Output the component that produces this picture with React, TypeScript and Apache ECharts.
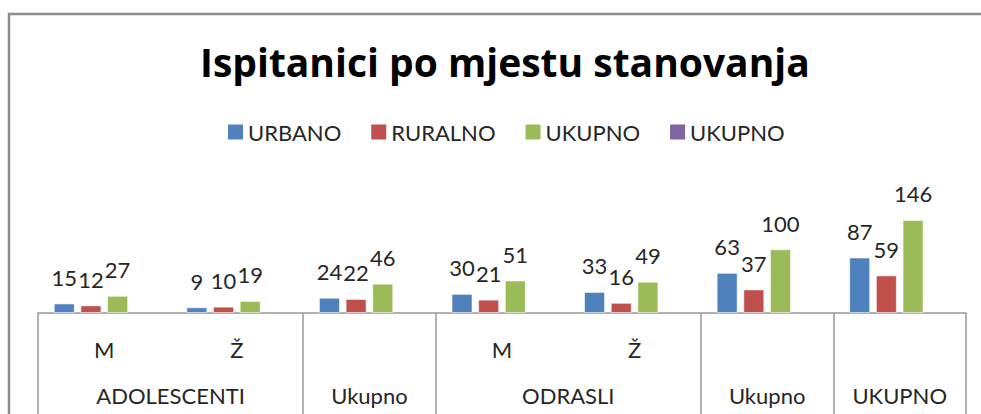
import React, { useEffect, useRef } from "react";
import * as echarts from "echarts";

const categories = ["M", "Ž", "", "M", "Ž", "", ""];
const groupLabels = ["ADOLESCENTI", "Ukupno", "ODRASLI", "Ukupno", "UKUPNO"];
const groupSpans = [2, 1, 2, 1, 1];
const seriesNames = ["URBANO", "RURALNO", "UKUPNO", "UKUPNO "];
const urbano = [15, 9, 24, 30, 33, 63, 87];
const ruralno = [12, 10, 22, 21, 16, 37, 59];
const ukupno = [27, 19, 46, 51, 49, 100, 146];
const ukupno2: (number | null)[] = [null, null, null, null, null, null, null];
const colors = ["#4F81BD", "#C0504D", "#9BBB59", "#8064A2"];

const FONT = "Lato";

export default function App() {
  const ref = useRef<HTMLDivElement>(null);
  useEffect(() => {
    document.body.style.margin = "0";
    if (!ref.current) return;
    const chart = echarts.init(ref.current, undefined, { renderer: "svg" });

    const bounds: number[] = [0];
    const centers: number[] = [];
    let acc = 0;
    groupSpans.forEach((s) => {
      centers.push(acc + s / 2);
      acc += s;
      bounds.push(acc);
    });
    const labelMap = new Map<number, string>();
    centers.forEach((c, i) => labelMap.set(c, groupLabels[i]));

    const values = [urbano, ruralno, ukupno, ukupno2];
    const series = values.map((d, i) => ({
      type: "bar",
      name: seriesNames[i],
      data: d,
      barWidth: 21,
      barGap: "27%",
      itemStyle: { color: colors[i], borderColor: "rgba(255,255,255,0.55)", borderWidth: 1 },
      label: {
        show: true,
        position: "top",
        distance: 15,
        fontFamily: FONT,
        fontSize: 22,
        color: "#262626",
      },
    }));

    chart.setOption({
      animation: false,
      title: {
        text: "Ispitanici po mjestu stanovanja",
        left: 195,
        top: 37,
        textStyle: { fontFamily: "Open Sans", fontWeight: "bold", fontSize: 39, color: "#000" },
      },
      legend: {
        left: 223,
        top: 116,
        itemWidth: 15,
        itemHeight: 15,
        itemGap: 30,
        icon: "rect",
        formatter: (n: string) => n.trim(),
        textStyle: { fontFamily: FONT, fontSize: 22, color: "#262626" },
        data: seriesNames.map((n, i) => ({ name: n, itemStyle: { color: colors[i], borderWidth: 0 } })),
      },
      grid: { left: 38, right: 15, top: 211, bottom: 101, containLabel: false },
      xAxis: [
        {
          type: "category",
          data: categories,
          position: "bottom",
          axisLine: { show: true, lineStyle: { color: "#989898", width: 1.5 } },
          axisTick: { show: false },
          axisLabel: { margin: 25, fontFamily: FONT, fontSize: 22, color: "#262626", interval: 0 },
        },
        {
          type: "value",
          min: 0,
          max: acc,
          position: "bottom",
          splitLine: { show: false },
          axisLine: { show: false },
          axisTick: {
            show: true,
            customValues: bounds,
            length: 120,
            lineStyle: { color: "#989898", width: 1.5 },
          },
          axisLabel: {
            customValues: centers,
            margin: 71,
            fontFamily: FONT,
            fontSize: 22,
            color: "#262626",
            formatter: (v: number) => labelMap.get(v) ?? "",
          },
        },
      ],
      yAxis: { type: "value", min: 0, max: 160, show: false },
      graphic: [
        {
          type: "rect",
          shape: { x: 9, y: 14, width: 1100, height: 600 },
          style: { fill: "none", stroke: "#8c8c8c", lineWidth: 2.5 },
          silent: true,
        },
      ],
      series,
    });
    return () => chart.dispose();
  }, []);
  return <div ref={ref} style={{ width: 981, height: 414 }} />;
}
